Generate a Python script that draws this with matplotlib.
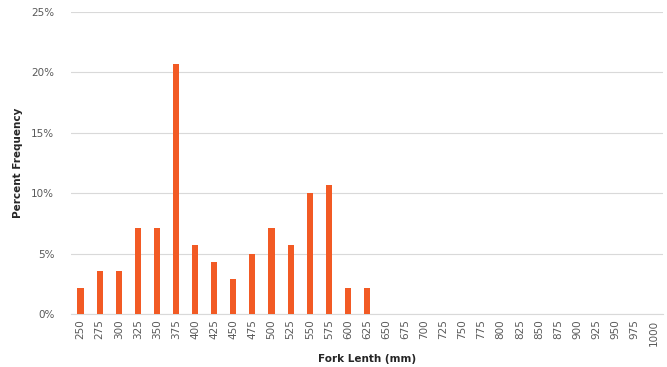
import matplotlib
matplotlib.use('Agg')
import matplotlib.pyplot as plt
from matplotlib.ticker import FuncFormatter

# fork length bins (mm) and percent frequency per bin
lengths = list(range(250, 1001, 25))
percent = [2.14, 3.57, 3.57, 7.14, 7.14, 20.71, 5.71, 4.29, 2.86, 5.00,
           7.14, 5.71, 10.00, 10.71, 2.14, 2.14] + [0] * 15

bar_color = '#F25A24'
text_color = '#595959'

fig = plt.figure(figsize=(6.67, 3.67), dpi=100)
ax = fig.add_axes([0.1064, 0.1444, 0.8876, 0.8226])

x = range(len(lengths))
ax.bar(x, percent, width=0.32, color=bar_color, zorder=3)

ax.set_xlim(-0.5, len(lengths) - 0.5)
ax.set_ylim(0, 25)
ax.set_yticks([0, 5, 10, 15, 20, 25])
ax.yaxis.set_major_formatter(FuncFormatter(lambda v, p: '%d%%' % v))
ax.set_xticks(list(x))
ax.set_xticklabels([str(v) for v in lengths], rotation=90)

ax.grid(axis='y', color='#D9D9D9', linewidth=0.8, zorder=0)
for s in ['left', 'right', 'top']:
    ax.spines[s].set_visible(False)
ax.spines['bottom'].set_color('#D9D9D9')
ax.tick_params(axis='both', length=0, labelsize=7.5, colors=text_color)
ax.tick_params(axis='y', pad=12)
ax.tick_params(axis='x', pad=4)

ax.set_xlabel('Fork Lenth (mm)', fontsize=7.5, fontweight='bold', color='#262626', labelpad=6)
ax.set_ylabel('Percent Frequency', fontsize=7.5, fontweight='bold', color='#262626', labelpad=6)

fig.savefig('out.png', dpi=100)
